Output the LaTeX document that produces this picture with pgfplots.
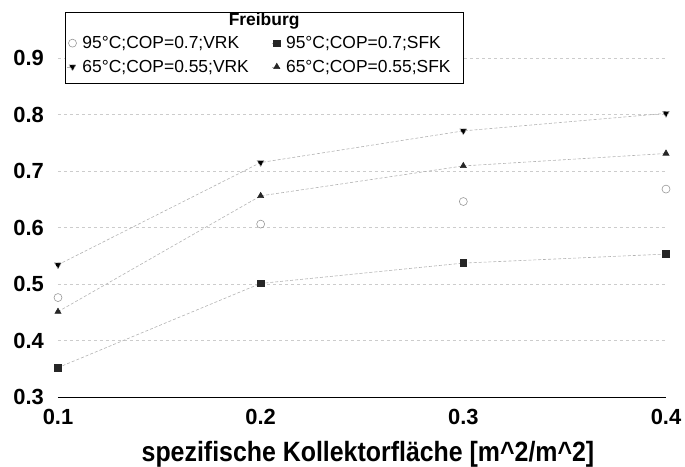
\documentclass[border=0pt]{standalone}
\usepackage{pgfplots}
\pgfplotsset{compat=1.18}
\usepackage{fontspec}
\setmainfont{Liberation Sans}

% Freiburg: Deckungsanteil ueber spezifischer Kollektorflaeche
\pgfplotstableread{
x     y
0.1   0.476
0.2   0.606
0.3   0.646
0.4   0.668
}\heissVRK
\pgfplotstableread{
x     y
0.1   0.352
0.2   0.501
0.3   0.537
0.4   0.553
}\heissSFK
\pgfplotstableread{
x     y
0.1   0.534
0.2   0.715
0.3   0.771
0.4   0.802
}\warmVRK
\pgfplotstableread{
x     y
0.1   0.451
0.2   0.656
0.3   0.709
0.4   0.731
}\warmSFK

\begin{document}
\begin{tikzpicture}
\begin{axis}[
  scale only axis, width=608bp, height=395.5bp,
  xmin=0.1, xmax=0.4, ymin=0.3, ymax=1.0,
  xtick={0.1,0.2,0.3,0.4},
  ytick={0.3,0.4,0.5,0.6,0.7,0.8,0.9},
  axis lines*=left,
  y axis line style={draw=none},
  x axis line style={black, line width=0.8bp, -},
  major tick length=0pt,
  ymajorgrids, grid style={gray!40, dashed, line width=0.5bp},
  /pgf/number format/.cd, fixed, fixed zerofill, precision=1, assume math mode=true, /pgfplots/.cd,
  ticklabel style={font=\bfseries\fontsize{22}{22}\selectfont, inner sep=0pt},
  yticklabel style={anchor=east, xshift=-14bp},
  xticklabel style={anchor=north, yshift=-12bp},
  xlabel={\scalebox{1}[1.12]{spezifische Kollektorfläche [m\^{}2/m\^{}2]}},
  xlabel style={at={(axis description cs:0.5,0)}, anchor=base, yshift=-64bp, xshift=6bp,
    font=\bfseries\fontsize{25}{25}\selectfont, inner sep=0pt},
  clip=false,
  legend columns=2,
  legend cell align=left,
  legend style={at={(rel axis cs:0.0148,0.915)}, anchor=north west,
    draw=none, fill=none, inner sep=0pt, row sep=8bp,
    font=\fontsize{17.5}{20}\selectfont,
    nodes={inner sep=1bp},
    /tikz/every odd column/.append style={column sep=5bp}},
  legend image code/.code={
    \draw[mark repeat=2, mark phase=2, #1] plot coordinates {(0bp,0bp) (5bp,0bp) (8bp,0bp)};
  },
  serie/.style={draw=gray!60, densely dashed, line width=0.6bp,
    mark options={solid, draw=black!85, fill=black!85}},
]
\draw[fill=white, line width=0.8bp] (rel axis cs:0.0115,0.794) rectangle (rel axis cs:0.666,0.973);
\node[font=\bfseries\fontsize{17.5}{20}\selectfont] at (rel axis cs:0.339,0.951) {Freiburg};

\addplot[only marks, mark=o, mark size=4bp, mark options={draw=gray!80, line width=0.6bp}]
  table[x=x, y=y] {\heissVRK};
\addlegendentry{\makebox[188bp][l]{95°C;COP=0.7;VRK}}
\addplot[serie, mark=square*, mark size=3.3bp] table[x=x, y=y] {\heissSFK};
\addlegendentry{95°C;COP=0.7;SFK}
\addplot[serie, mark=triangle*, mark size=4bp, mark options={rotate=180}] table[x=x, y=y] {\warmVRK};
\addlegendentry{\makebox[188bp][l]{65°C;COP=0.55;VRK}}
\addplot[serie, mark=triangle*, mark size=3.5bp] table[x=x, y=y] {\warmSFK};
\addlegendentry{65°C;COP=0.55;SFK}
\end{axis}
\path (-58bp,-69bp) rectangle (627bp,397bp);
\end{tikzpicture}
\end{document}
